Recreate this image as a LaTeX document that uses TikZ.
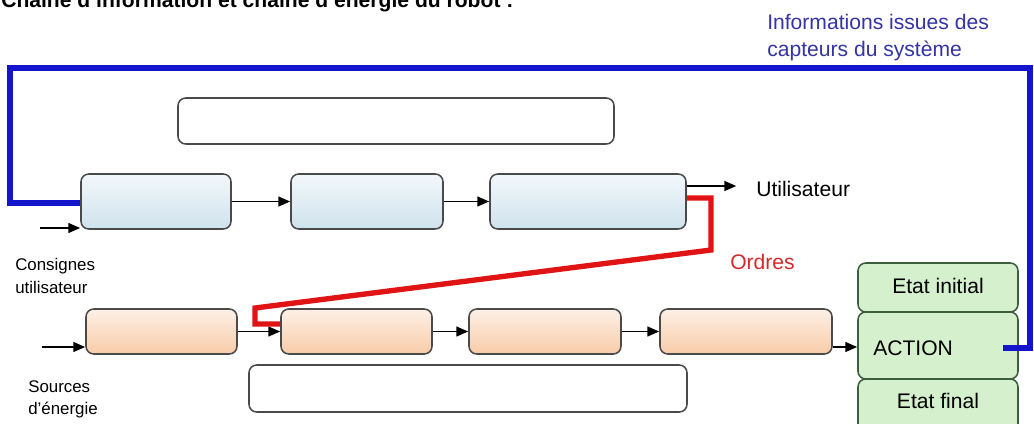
\documentclass[tikz,border=0pt]{standalone}
\usepackage{fontspec}
\setmainfont{Liberation Sans}
\usetikzlibrary{arrows.meta,fit}
\definecolor{bordergrey}{HTML}{4A4A4A}
\definecolor{fbblue}{HTML}{1414CC}
\definecolor{txtblue}{HTML}{3434A4}
\definecolor{ordred}{HTML}{E01414}
\definecolor{txtred}{HTML}{D42A2A}
\definecolor{blueTop}{HTML}{F2F8FB}
\definecolor{blueBot}{HTML}{CFE2EC}
\definecolor{orTop}{HTML}{FDF0E6}
\definecolor{orBot}{HTML}{F9CCA8}
\definecolor{grfill}{HTML}{D4F0CC}
\definecolor{grborder}{HTML}{3C5E3C}
\tikzset{
  rbox/.style={draw=bordergrey, line width=1.1pt, rounded corners=5.5pt, inner sep=0pt},
  bluebox/.style={rbox, top color=blueTop, bottom color=blueBot},
  orbox/.style={rbox, top color=orTop, bottom color=orBot},
  emptybox/.style={rbox, fill=white},
  grbox/.style={draw=grborder, line width=1.1pt, rounded corners=5.5pt, inner sep=0pt, fill=grfill},
  arr/.style={draw=black, line width=1.3pt, -{Triangle[length=8.5pt,width=7pt]}},
  fbline/.style={draw=fbblue, line width=4.2pt},
  ordline/.style={draw=ordred, line width=3.8pt},
  bigtxt/.style={font=\fontsize{15}{19}\selectfont, inner sep=0pt},
  smalltxt/.style={font=\fontsize{12}{16}\selectfont, inner sep=0pt, align=left},
}
\begin{document}
\begin{tikzpicture}[x=0.025cm, y=-0.025cm]
\useasboundingbox (0,0) rectangle (1034,423);
\fill[white] (0,0) rectangle (1034,423);
% title (cut at top, as in the reference)
\node[font=\bfseries\fontsize{15}{18}\selectfont, inner sep=0pt, anchor=base west] (title) at (1,7) {Chaîne d'information et chaîne d'énergie du robot :};
% information chain
\node[emptybox, fit={(178,98) (614,144)}] (topbox) {};
\node[bluebox, fit={(81,174) (231,229)}] (b1) {};
\node[bluebox, fit={(291,174) (443,229)}] (b2) {};
\node[bluebox, fit={(490,174) (686,229)}] (b3) {};
% energy chain
\node[orbox, fit={(86,309) (237,354)}] (o1) {};
\node[orbox, fit={(281,309) (432,354)}] (o2) {};
\node[orbox, fit={(469,309) (621,354)}] (o3) {};
\node[orbox, fit={(660,309) (832,354)}] (o4) {};
\node[emptybox, fit={(249,365) (687,412)}] (botbox) {};
% action
\node[grbox, fit={(858,312) (1018,379)}] (act) {};
\node[grbox, fit={(858,263) (1018,312)}] (ei) {};
\node[grbox, fit={(858,379) (1018,436)}] (ef) {};
\node[bigtxt, anchor=base] (eitxt) at (938,293) {Etat initial};
\node[bigtxt, anchor=base west] (acttxt) at (873,355) {ACTION};
\node[bigtxt, anchor=base] (eftxt) at (938,408) {Etat final};
% texts
\node[bigtxt, anchor=base west] (util) at (756,196) {Utilisateur};
\node[bigtxt, anchor=base west, text=txtred] (ordres) at (730,269) {Ordres};
\node[bigtxt, anchor=north west, align=left, text=txtblue] (info) at (767,14) {Informations\ issues\ des\\capteurs du système};
\node[smalltxt, anchor=north west] (consignes) at (15,258) {Consignes\\utilisateur};
\node[smalltxt, anchor=north west] (sources) at (28,380) {Sources\\d'énergie};
% coordinates
\coordinate (cin) at (40,228);
\coordinate (ein) at (42,347);
\coordinate (uy) at (700,186);
\coordinate (ay) at (840,347);
\coordinate (r1) at (711,198);
\coordinate (r2) at (711,250);
\coordinate (r3) at (255,308);
\coordinate (r4) at (255,324);
\coordinate (f0) at (1003,348);
\coordinate (f1) at (1030,348);
\coordinate (f2) at (1030,68);
\coordinate (f3) at (10,68);
\coordinate (f4) at (10,203);
% arrows
\draw[arr] (cin) -- (cin -| b1.west);
\draw[arr] (b1) -- (b2);
\draw[arr] (b2) -- (b3);
\draw[arr] (b3.east |- uy) -- ([xshift=-14pt]util.west |- uy);
\draw[arr] (ein) -- (ein -| o1.west);
\draw[arr] (o1) -- (o2);
\draw[arr] (o2) -- (o3);
\draw[arr] (o3) -- (o4);
\draw[arr] (o4.east |- ay) -- (ay -| act.west);
% orders (red)
\draw[ordline, line join=miter] (b3.east |- r1) -- (r1) -- (r2) -- (r3) -- (r4) -- (r4 -| o2.west);
% feedback (blue)
\draw[fbline, line join=miter] (f0) -- (f1) -- (f2) -- (f3) -- (f4) -- (f4 -| b1.west);
\end{tikzpicture}
\end{document}
